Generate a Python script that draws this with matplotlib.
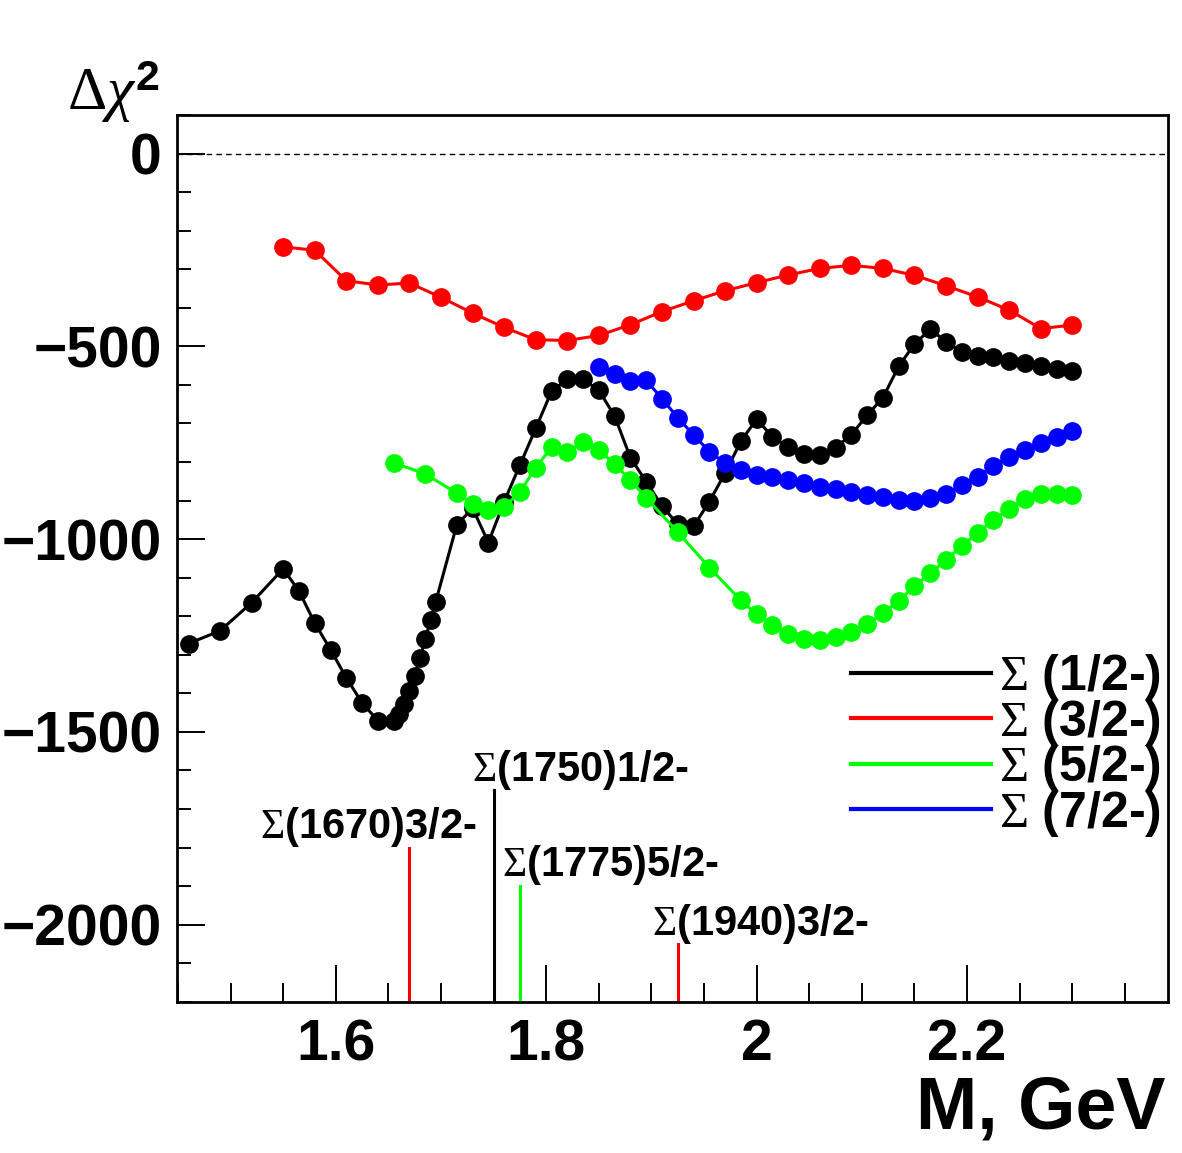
import matplotlib
matplotlib.use("Agg")
import matplotlib.pyplot as plt
from matplotlib.ticker import MultipleLocator, FuncFormatter

plt.rcParams['font.family'] = ['Liberation Sans', 'DejaVu Sans']
plt.rcParams['mathtext.fontset'] = 'custom'
plt.rcParams['mathtext.rm'] = 'Liberation Serif'
plt.rcParams['mathtext.it'] = 'Liberation Serif:italic'
plt.rcParams['mathtext.bf'] = 'Liberation Sans:bold'

# Sigma 1/2-
m_12 = [1.46, 1.49, 1.52, 1.55, 1.565, 1.58, 1.595, 1.61, 1.625, 1.64, 1.655,
        1.66, 1.665, 1.67, 1.675, 1.68, 1.685, 1.69, 1.695,
        1.715, 1.73, 1.745, 1.76, 1.775, 1.79, 1.805, 1.82, 1.835, 1.85, 1.865,
        1.88, 1.895, 1.91, 1.925, 1.94, 1.955, 1.97, 1.985, 2.0, 2.015, 2.03,
        2.045, 2.06, 2.075, 2.09, 2.105, 2.12, 2.135, 2.15, 2.165, 2.18, 2.195,
        2.21, 2.225, 2.24, 2.255, 2.27, 2.285, 2.30]
chi_12 = [-1271, -1238, -1165, -1077, -1135, -1218, -1287, -1360, -1425, -1471, -1471,
          -1453, -1427, -1395, -1354, -1308, -1260, -1211, -1162,
          -963, -920, -1009, -903, -808, -713, -617, -586, -586, -614, -681,
          -789, -851, -914, -962, -967, -903, -829, -746, -689, -735, -761,
          -780, -782, -763, -729, -679, -633, -552, -494, -456, -488, -516,
          -524, -528, -537, -543, -552, -558, -565]

# Sigma 3/2-
m_32 = [1.55, 1.58, 1.61, 1.64, 1.67, 1.70, 1.73, 1.76, 1.79, 1.82, 1.85, 1.88, 1.91,
        1.94, 1.97, 2.0, 2.03, 2.06, 2.09, 2.12, 2.15, 2.18, 2.21, 2.24, 2.27, 2.30]
chi_32 = [-242, -251, -330, -341, -336, -373, -414, -451, -483, -485, -472, -444, -410,
          -382, -356, -335, -315, -298, -290, -298, -316, -343, -372, -406, -454, -445]

# Sigma 5/2-
m_52 = [1.655, 1.685, 1.715, 1.73, 1.745, 1.76, 1.775, 1.79, 1.805, 1.82, 1.835, 1.85,
        1.865, 1.88, 1.895, 1.925, 1.955, 1.985, 2.0, 2.015, 2.03, 2.045, 2.06, 2.075,
        2.09, 2.105, 2.12, 2.135, 2.15, 2.165, 2.18, 2.195, 2.21, 2.225, 2.24, 2.255,
        2.27, 2.285, 2.30]
chi_52 = [-802, -831, -881, -908, -924, -917, -878, -815, -762, -775, -748, -769,
          -806, -847, -893, -982, -1074, -1159, -1195, -1223, -1245, -1258, -1262, -1255,
          -1242, -1221, -1192, -1161, -1122, -1089, -1054, -1018, -984, -951, -921, -895,
          -883, -883, -885]

# Sigma 7/2-
m_72 = [1.85, 1.865, 1.88, 1.895, 1.91, 1.925, 1.94, 1.955, 1.97, 1.985, 2.0, 2.015,
        2.03, 2.045, 2.06, 2.075, 2.09, 2.105, 2.12, 2.135, 2.15, 2.165, 2.18, 2.195,
        2.21, 2.225, 2.24, 2.255, 2.27, 2.285, 2.30]
chi_72 = [-554, -571, -590, -588, -636, -685, -730, -773, -803, -821, -834, -839,
          -848, -855, -864, -870, -877, -885, -891, -898, -900, -894, -883, -859,
          -838, -810, -786, -769, -752, -736, -721]

series_labels = [r'$\Sigma$ (1/2-)', r'$\Sigma$ (3/2-)', r'$\Sigma$ (5/2-)', r'$\Sigma$ (7/2-)']
series_colors = ['#000000', '#ff0000', '#00ff00', '#0000ff']

# known resonances: mass, top of the marker line, label, colour
res_mass = [1.67, 1.75, 1.775, 1.925]
res_top = [-1800, -1650, -1900, -2050]
res_labels = [r'$\Sigma$(1670)3/2-', r'$\Sigma$(1750)1/2-', r'$\Sigma$(1775)5/2-', r'$\Sigma$(1940)3/2-']
res_colors = ['#ff0000', '#000000', '#00ff00', '#ff0000']
res_text_x = [1.528, 1.7295, 1.758, 1.9006]
res_text_y = [-1775, -1628, -1873, -2026]

xmin, xmax = 1.449, 2.391
ymin, ymax = -2200, 100

fig = plt.figure(figsize=(11.82, 11.53), dpi=100)
ax = fig.add_axes([0.1497, 0.1312, 0.9882 - 0.1497, 0.9003 - 0.1312])

ax.axhline(0, color='black', lw=1, ls=(0, (4, 3)))

for mx, my, lab, col in zip([m_12, m_32, m_52, m_72], [chi_12, chi_32, chi_52, chi_72],
                            series_labels, series_colors):
    ax.plot(mx, my, '-', color=col, lw=2.2, marker='o', ms=13.5, mew=0, label=lab)

for m, top, lab, col, tx, ty in zip(res_mass, res_top, res_labels, res_colors, res_text_x, res_text_y):
    ax.plot([m, m], [ymin, top], color=col, lw=2.2)
    ax.text(tx, ty, lab, fontsize=30, fontweight='bold', ha='left', va='baseline')

ax.set_xlim(xmin, xmax)
ax.set_ylim(ymin, ymax)

ax.xaxis.set_major_locator(MultipleLocator(0.2))
ax.xaxis.set_minor_locator(MultipleLocator(0.05))
ax.yaxis.set_major_locator(MultipleLocator(500))
ax.yaxis.set_minor_locator(MultipleLocator(100))
ax.xaxis.set_major_formatter(FuncFormatter(lambda v, p: f'{v:g}'))

ax.tick_params(axis='x', which='major', direction='in', length=27, width=1.4, labelsize=41, pad=12)
ax.tick_params(axis='x', which='minor', direction='in', length=13.5, width=1.4)
ax.tick_params(axis='y', which='major', direction='in', length=20, width=1.4, labelsize=41, pad=11)
ax.tick_params(axis='y', which='minor', direction='in', length=10, width=1.4)
for lbl in ax.get_xticklabels() + ax.get_yticklabels():
    lbl.set_fontweight('bold')
for sp in ax.spines.values():
    sp.set_linewidth(2)

leg = ax.legend(loc='upper right', bbox_to_anchor=(0.993, 0.394), frameon=False,
                handlelength=2.8, handletextpad=0.16, labelspacing=-0.09,
                borderaxespad=0.0, borderpad=0.0, prop={'weight': 'bold', 'size': 36})
for h in leg.get_lines():
    h.set_marker('')
    h.set_linewidth(3)

fig.text(0.057, 0.905, r'$\Delta\chi^{\mathbf{2}}$', fontsize=44, ha='left', va='baseline')
fig.text(0.986, 0.021, 'M, GeV', fontsize=53, fontweight='bold', ha='right', va='baseline')

fig.savefig('out.png', dpi=100)
